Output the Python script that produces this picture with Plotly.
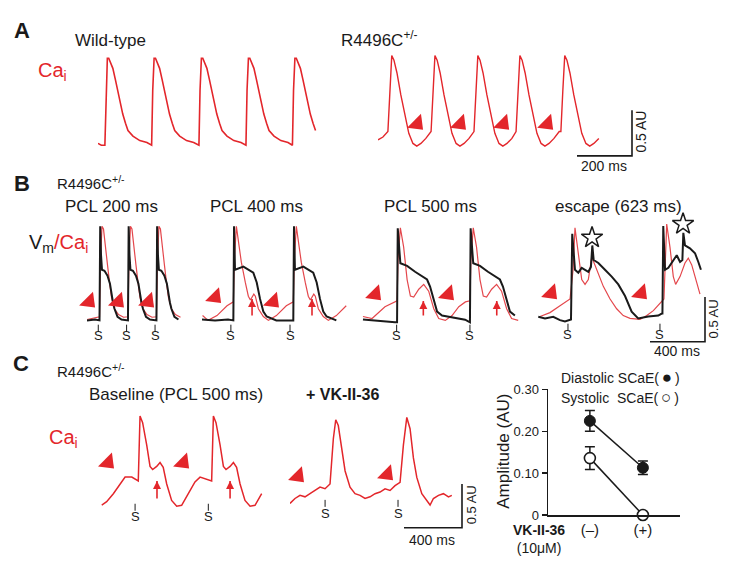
import plotly.graph_objects as go

W, H = 730, 561
FONT = "Arial, 'Liberation Sans', sans-serif"
RED = "#e3262b"
RED_B = "#e4474c"
INK = "#1a1a1a"

# ======================= DATA =======================
# --- Panel C (right): SCaE amplitude (AU)
amp_groups = ["(–)", "(+)"]
diastolic_mean = [0.225, 0.113]
diastolic_err = [0.025, 0.016]
systolic_mean = [0.136, 0.0]
systolic_err = [0.027, 0.0]
amp_tickvals = [0, 0.10, 0.20, 0.30]
amp_ticktext = ["0", "0.10", "0.20", "0.30"]

# --- Panel A, wild-type Ca_i: one beat (ms after upstroke, AU), beat onsets (ms)
wt_beat_t = [0, 4, 9, 14, 20, 29, 38, 47, 56, 65, 75, 84, 102, 127, 153, 170]
wt_beat_y = [0.0, 0.6, 0.95, 0.95, 0.91, 0.84, 0.72, 0.59, 0.46, 0.34, 0.24, 0.16, 0.10, 0.05, 0.03, 0.0]
wt_pre_t = [0, 12]
wt_pre_y = [0.02, 0.0]
wt_onsets = [25, 195, 367, 538, 707]
wt_end = 796

# --- Panel A, R4496C+/- Ca_i
r_beat_t = [0, 7, 14, 22, 33, 47, 62, 76, 91, 105, 120, 138, 157]
r_beat_y = [0.16, 0.6, 0.99, 0.94, 0.80, 0.56, 0.32, 0.14, 0.03, 0.0, 0.03, 0.085, 0.16]
r_pre_t = [0, 18]
r_pre_y = [0.07, 0.10]
r_onsets = [36, 193, 349, 502, 665]
r_end = 818
r_arrow_t = [142, 298, 455, 615]
r_arrow_y = [0.245, 0.245, 0.245, 0.245]

# --- Panel B, PCL 200 ms (Vm black, Ca_i red)
b200_vm_t = [0, 3, 5, 11, 18, 36, 58, 76, 87, 98, 109, 131, 160, 207]
b200_vm_y = [0, 0.6, 1.05, 0.73, 0.565, 0.554, 0.50, 0.41, 0.29, 0.20, 0.13, 0.04, 0.01, 0]
b200_ca_t = [0, 7, 18, 29, 44, 58, 73, 87, 109, 138, 175, 207]
b200_ca_y = [0.04, 0.67, 1.05, 1.02, 0.84, 0.62, 0.425, 0.26, 0.13, 0.065, 0.035, 0.04]
b200_pre_t = [0, 58]
b200_pre_vm = [0.0, 0.01]
b200_pre_ca = [0.01, 0.03]
b200_onsets = [91, 298, 505]
b200_end = 698
b200_s = [82, 288, 495]
b200_head_t = [15, 225, 444]
b200_head_y = [0.21, 0.21, 0.21]

# --- Panel B, PCL 400 ms
b400_vm_t = [0, 3, 5, 12, 73, 145, 170, 194, 218, 242, 313, 436]
b400_vm_y = [0, 0.6, 1.05, 0.565, 0.60, 0.533, 0.424, 0.24, 0.098, 0.043, 0, 0]
b400_ca_t = [0, 7, 22, 36, 58, 87, 109, 124, 138, 149, 160, 182, 218, 255, 313, 385, 436]
b400_ca_y = [0.207, 0.67, 1.05, 0.89, 0.65, 0.424, 0.27, 0.228, 0.27, 0.293, 0.27, 0.13, 0.043, 0, 0.054, 0.163, 0.207]
b400_pre_t_vm = [0, 95, 189]
b400_pre_vm = [0.01, 0.0, 0.01]
b400_pre_t_ca = [4, 44, 109, 182]
b400_pre_ca = [0.054, 0.0, 0.054, 0.163]
b400_onsets = [228, 664]
b400_end = 1055
b400_s = [210, 640]
b400_head_t = [95, 516]
b400_head_y = [0.26, 0.21]
b400_up_t = [364, 800]
b400_up_tip = [0.239, 0.239]
b400_up_tail = [0.054, 0.054]

# --- Panel B, PCL 500 ms
b500_vm_t = [0, 3, 5, 24, 73, 131, 182, 218, 240, 269, 291, 327, 400, 495, 531]
b500_vm_y = [0, 0.6, 1.05, 0.66, 0.63, 0.565, 0.51, 0.478, 0.40, 0.228, 0.12, 0.076, 0.054, 0.03, 0]
b500_ca_t = [0, 7, 24, 48, 73, 97, 121, 158, 194, 230, 267, 303, 351, 400, 449, 497, 531]
b500_ca_y = [0.24, 0.70, 1.055, 0.84, 0.478, 0.293, 0.283, 0.37, 0.424, 0.348, 0.152, 0.043, 0.022, 0.076, 0.174, 0.228, 0.24]
b500_pre_t_vm = [7, 131, 240]
b500_pre_vm = [0.033, 0.011, 0.0]
b500_pre_t_ca = [7, 73, 167, 240]
b500_pre_ca = [0.065, 0.043, 0.174, 0.23]
b500_onsets = [255, 785]
b500_end = 1164
b500_s = [252, 785]
b500_head_t = [95, 625]
b500_head_y = [0.315, 0.315]
b500_up_t = [446, 980]
b500_up_tip = [0.239, 0.239]
b500_up_tail = [0.076, 0.076]

# --- Panel B, escape (623 ms): full traces (ms, AU)
esc_vm_t = [2, 51, 111, 160, 196, 220, 240, 249, 258, 269, 293, 318, 342, 366, 385, 395, 405, 439, 487,
            536, 584, 633, 681, 729, 802, 875, 900, 905, 911, 924, 948, 984, 1009, 1033, 1050, 1057,
            1069, 1105, 1142, 1166, 1185]
esc_vm_y = [0.04, 0.022, 0.04, 0.003, -0.011, 0.003, 0.011, 0.967, 0.78, 0.565, 0.533, 0.587, 0.565, 0.543,
            0.598, 0.837, 0.674, 0.641, 0.565, 0.489, 0.402, 0.272, 0.098, 0.022, 0.043, 0.054, 0.076,
            0.076, 1.054, 0.565, 0.587, 0.674, 0.728, 0.652, 0.674, 0.978, 0.837, 0.804, 0.75, 0.652, 0.565]
esc_ca_t = [15, 87, 160, 233, 255, 269, 293, 318, 342, 366, 391, 427, 475, 524, 572, 620, 669, 742, 791,
            839, 900, 916, 936, 960, 984, 1001, 1033, 1069, 1093, 1118, 1154, 1178]
esc_ca_y = [0.043, 0.087, 0.163, 0.239, 0.565, 1.033, 0.75, 0.457, 0.402, 0.457, 0.707, 0.565, 0.38, 0.239,
            0.13, 0.054, 0.022, 0.011, 0.054, 0.109, 0.207, 0.239, 1.076, 0.815, 0.489, 0.402, 0.489,
            0.641, 0.696, 0.62, 0.424, 0.293]
esc_s = [218, 887]
esc_head_t = [95, 749]
esc_head_y = [0.304, 0.304]
esc_star_t = [393, 1055]
esc_star_y = [0.924, 1.076]

# --- Panel C, baseline (PCL 500 ms) Ca_i
cb_beat_t = [0, 12, 30, 58, 81, 99, 127, 150, 172, 196, 230, 265, 299, 345, 391, 426, 472, 506]
cb_beat_y = [0.289, 1.03, 0.955, 0.70, 0.455, 0.42, 0.455, 0.50, 0.444, 0.255, 0.067, 0.0, 0.011,
             0.144, 0.278, 0.333, 0.311, 0.289]
cb_pre_t = [12, 46, 92, 138, 173, 219, 253]
cb_pre_y = [0.014, 0.052, 0.144, 0.255, 0.333, 0.333, 0.292]
cb_onsets = [264, 770]
cb_end = 1127
cb_s = [242, 747]
cb_head_t = [55, 573]
cb_head_y = [0.5, 0.5]
cb_up_t = [393, 897]
cb_up_tip = [0.289, 0.289]
cb_up_tail = [0.089, 0.089]

# --- Panel C, + VK-II-36 Ca_i: full trace (ms, AU)
vk_t = [0, 34.5, 69, 103.5, 138, 172.5, 207, 241.5, 276, 299, 315.5, 333, 357.5, 380, 414, 448.5, 483,
        517.5, 552, 586.5, 621, 655.5, 690, 724.5, 759, 782, 805.5, 828, 851, 874.5, 909, 943.5, 966,
        989, 1024, 1058, 1093, 1116]
vk_y = [0.033, 0.089, 0.125, 0.108, 0.144, 0.181, 0.219, 0.2, 0.255, 0.774, 0.988, 0.922, 0.663, 0.403,
        0.219, 0.144, 0.125, 0.089, 0.108, 0.144, 0.163, 0.2, 0.181, 0.236, 0.274, 0.699, 1.014, 0.885,
        0.552, 0.33, 0.144, 0.07, 0.014, 0.089, 0.125, 0.144, 0.108, 0.125]
vk_s = [242, 745]
vk_head_t = [55, 669]
vk_head_y = [0.344, 0.366]

# scale bars (ms, AU)
scale_a = (200, 0.5)
scale_bc = (400, 0.5)


def build(pre_t, pre_y, beat_t, beat_y, onsets, t_end):
    ts, ys = list(pre_t), list(pre_y)
    for i, on in enumerate(onsets):
        last = i == len(onsets) - 1
        nxt = t_end if last else onsets[i + 1]
        for bt, by in zip(beat_t, beat_y):
            tt = on + bt
            if tt < nxt or (last and tt <= t_end):
                ts.append(tt)
                ys.append(by)
    return ts, ys


# ======================= LAYOUT OF PANELS =======================
# name: (left px, baseline px, ms per px, AU per px, x range, y range)
PANELS = [
    ("awt", 98, 142, 200 / 55, 0.5 / 47, (0, 800), (-0.1, 1.05)),
    ("ar", 378, 143, 200 / 55, 0.5 / 47, (0, 960), (-0.15, 1.05)),
    ("b200", 87, 322, 400 / 55, 0.5 / 46, (0, 700), (-0.25, 1.15)),
    ("b400", 202, 322, 400 / 55, 0.5 / 46, (0, 1060), (-0.25, 1.15)),
    ("b500", 362, 324, 400 / 55, 0.5 / 46, (0, 1170), (-0.25, 1.15)),
    ("besc", 538, 322, 400 / 55, 0.5 / 46, (0, 1230), (-0.3, 1.15)),
    ("cb", 100, 513, 400 / 58, 0.5 / 45, (0, 1130), (-0.2, 1.1)),
    ("cvk", 290, 513, 400 / 58, 0.5 / 45, (0, 1200), (-0.3, 1.1)),
]
AX = {}
GEOM = {}
axes_layout = {}
for i, (name, left, base, mspp, aupp, tr, yr) in enumerate(PANELS, start=2):
    x0 = left + tr[0] / mspp
    x1 = left + tr[1] / mspp
    ytop = base - yr[1] / aupp
    ybot = base - yr[0] / aupp
    axes_layout[f"xaxis{i}"] = dict(domain=[max(0, x0 / W), min(1, x1 / W)], range=list(tr),
                                    visible=False, anchor=f"y{i}", fixedrange=True)
    axes_layout[f"yaxis{i}"] = dict(domain=[max(0, 1 - ybot / H), min(1, 1 - ytop / H)], range=list(yr),
                                    visible=False, anchor=f"x{i}", fixedrange=True)
    AX[name] = (f"x{i}", f"y{i}")
    GEOM[name] = (left, base, mspp, aupp)


def to_data(name, px, py):
    left, base, mspp, aupp = GEOM[name]
    return (px - left) * mspp, (base - py) * aupp


fig = go.Figure()


def line(name, t, y, color, width):
    xa, ya = AX[name]
    fig.add_trace(go.Scatter(x=t, y=y, mode="lines", xaxis=xa, yaxis=ya, hoverinfo="skip",
                             line=dict(color=color, width=width), showlegend=False))


def heads(name, t, y):
    xa, ya = AX[name]
    fig.add_trace(go.Scatter(x=t, y=y, mode="markers", xaxis=xa, yaxis=ya, cliponaxis=False,
                             marker=dict(symbol="triangle-up", angle=135, size=17, color=RED),
                             hoverinfo="skip", showlegend=False))


def up_arrows(name, t, tip, tail):
    xa, ya = AX[name]
    xs, ys = [], []
    for tt, a, b in zip(t, tip, tail):
        xs += [tt, tt, None]
        ys += [b, a, None]
    fig.add_trace(go.Scatter(x=xs, y=ys, mode="lines", xaxis=xa, yaxis=ya, cliponaxis=False,
                             line=dict(color=RED, width=1.6), hoverinfo="skip", showlegend=False))
    fig.add_trace(go.Scatter(x=t, y=tip, mode="markers", xaxis=xa, yaxis=ya, cliponaxis=False,
                             marker=dict(symbol="arrow-up", size=8, color=RED),
                             hoverinfo="skip", showlegend=False))


def s_marks(name, t, tick_px, s_px):
    xa, ya = AX[name]
    left, base, mspp, aupp = GEOM[name]
    ty = (base - tick_px) * aupp
    sy = (base - s_px) * aupp
    fig.add_trace(go.Scatter(x=t, y=[ty] * len(t), mode="markers", xaxis=xa, yaxis=ya, cliponaxis=False,
                             marker=dict(symbol="line-ns", size=5, line=dict(width=1, color=INK)),
                             hoverinfo="skip", showlegend=False))
    for tt in t:
        fig.add_annotation(x=tt, y=sy, xref=xa, yref=ya, text="S", showarrow=False,
                           font=dict(family=FONT, size=13, color=INK), xanchor="center", yanchor="middle")


def scale_bar(name, scale, corner_px):
    t1, y0 = to_data(name, *corner_px)
    t0 = t1 - scale[0]
    line(name, [t0, t1, t1], [y0, y0, y0 + scale[1]], INK, 1.6)


# ---- Panel A
t, y = build(wt_pre_t, wt_pre_y, wt_beat_t, wt_beat_y, wt_onsets, wt_end)
line("awt", t, y, RED, 1.6)
t, y = build(r_pre_t, r_pre_y, r_beat_t, r_beat_y, r_onsets, r_end)
line("ar", t, y, RED, 1.4)
heads("ar", r_arrow_t, r_arrow_y)
scale_bar("ar", scale_a, (632, 153))

# ---- Panel B
t, y = build(b200_pre_t, b200_pre_ca, b200_ca_t, b200_ca_y, b200_onsets, b200_end)
line("b200", t, y, RED_B, 1.2)
t, y = build(b200_pre_t, b200_pre_vm, b200_vm_t, b200_vm_y, b200_onsets, b200_end)
line("b200", t, y, INK, 2)
heads("b200", b200_head_t, b200_head_y)
s_marks("b200", b200_s, 330, 338)

t, y = build(b400_pre_t_ca, b400_pre_ca, b400_ca_t, b400_ca_y, b400_onsets, b400_end)
line("b400", t, y, RED_B, 1.2)
t, y = build(b400_pre_t_vm, b400_pre_vm, b400_vm_t, b400_vm_y, b400_onsets, b400_end)
line("b400", t, y, INK, 2)
heads("b400", b400_head_t, b400_head_y)
up_arrows("b400", b400_up_t, b400_up_tip, b400_up_tail)
s_marks("b400", b400_s, 330, 338)

t, y = build(b500_pre_t_ca, b500_pre_ca, b500_ca_t, b500_ca_y, b500_onsets, b500_end)
line("b500", t, y, RED_B, 1.2)
t, y = build(b500_pre_t_vm, b500_pre_vm, b500_vm_t, b500_vm_y, b500_onsets, b500_end)
line("b500", t, y, INK, 2)
heads("b500", b500_head_t, b500_head_y)
up_arrows("b500", b500_up_t, b500_up_tip, b500_up_tail)
s_marks("b500", b500_s, 330, 338)

line("besc", esc_ca_t, esc_ca_y, RED_B, 1.2)
line("besc", esc_vm_t, esc_vm_y, INK, 2)
heads("besc", esc_head_t, esc_head_y)
s_marks("besc", esc_s, 329, 337)
xa, ya = AX["besc"]
fig.add_trace(go.Scatter(x=esc_star_t, y=esc_star_y, mode="markers", xaxis=xa, yaxis=ya, cliponaxis=False,
                         marker=dict(symbol="star-open", size=16, color=INK, line=dict(width=1.5, color=INK)),
                         hoverinfo="skip", showlegend=False))
scale_bar("besc", scale_bc, (705, 344))

# ---- Panel C traces
t, y = build(cb_pre_t, cb_pre_y, cb_beat_t, cb_beat_y, cb_onsets, cb_end)
line("cb", t, y, RED, 1.5)
heads("cb", cb_head_t, cb_head_y)
up_arrows("cb", cb_up_t, cb_up_tip, cb_up_tail)
s_marks("cb", cb_s, 514, 523)

line("cvk", vk_t, vk_y, RED, 1.5)
heads("cvk", vk_head_t, vk_head_y)
s_marks("cvk", vk_s, 510, 520)
scale_bar("cvk", scale_bc, (462, 535))

# ---- Panel C amplitude chart (x / y)
xg = list(range(len(amp_groups)))
fig.add_trace(go.Scatter(x=xg, y=systolic_mean, mode="lines+markers", cliponaxis=False,
                         error_y=dict(type="data", array=systolic_err, thickness=1.5, width=5, color=INK),
                         line=dict(color=INK, width=1.5),
                         marker=dict(size=11, color="white", line=dict(color=INK, width=1.6)),
                         showlegend=False))
fig.add_trace(go.Scatter(x=xg, y=diastolic_mean, mode="lines+markers", cliponaxis=False,
                         error_y=dict(type="data", array=diastolic_err, thickness=1.5, width=5, color=INK),
                         line=dict(color=INK, width=1.5),
                         marker=dict(size=11, color=INK, line=dict(color=INK, width=1)),
                         showlegend=False))

axes_layout["xaxis"] = dict(domain=[548 / W, 680 / W], range=[-0.79, 1.70], tickvals=xg, ticktext=amp_groups,
                            showline=True, linewidth=1.5, linecolor=INK, ticks="", showgrid=False,
                            zeroline=False, tickfont=dict(family=FONT, size=15, color=INK), anchor="y",
                            fixedrange=True)
axes_layout["yaxis"] = dict(domain=[1 - 522 / H, 1 - 393 / H], range=[0, 0.30], tickvals=amp_tickvals,
                            ticktext=amp_ticktext, showline=True, linewidth=1.5, linecolor=INK, ticks="outside",
                            ticklen=5, tickwidth=1.5, tickcolor=INK, showgrid=False, zeroline=False,
                            tickfont=dict(family=FONT, size=13, color=INK), anchor="x", fixedrange=True)


# ======================= TEXT =======================
def label(text, x, y, size=17, color=INK, xanchor="center", angle=0):
    fig.add_annotation(text=text, x=x / W, y=1 - y / H, xref="paper", yref="paper", showarrow=False,
                       font=dict(family=FONT, size=size, color=color), xanchor=xanchor, yanchor="middle",
                       textangle=angle)


label("<b>A</b>", 22, 24, size=22)
label("Wild-type", 73, 34, xanchor="left")
label("R4496C<sup>+/-</sup>", 339, 33, xanchor="left")
label("Ca<sub>i</sub>", 36, 66, size=20, color=RED, xanchor="left")
label("200 ms", 604, 163, size=14)
label("0.5 AU", 641, 128, size=14, angle=-90)

label("<b>B</b>", 22, 181, size=22)
label("R4496C<sup>+/-</sup>", 55, 180, size=15, xanchor="left")
label("PCL 200 ms", 111, 205)
label("PCL 400 ms", 256, 205)
label("PCL 500 ms", 430, 205)
label("escape (623 ms)", 618, 205)
label("V<sub>m</sub><span style='color:%s'>/Ca<sub>i</sub></span>" % RED, 27, 243, size=20, xanchor="left")
label("400 ms", 677, 353, size=14)
label("0.5 AU", 713, 321, size=13, angle=-90)

label("<b>C</b>", 21, 366, size=22)
label("R4496C<sup>+/-</sup>", 55, 373, size=15, xanchor="left")
label("Baseline (PCL 500 ms)", 176, 398)
label("<b>+ VK-II-36</b>", 304, 398, size=16, xanchor="left")
label("Ca<sub>i</sub>", 47, 443, size=20, color=RED, xanchor="left")
label("400 ms", 432, 548, size=14)
label("0.5 AU", 471, 511, size=13, angle=-90)

label("Diastolic SCaE(\u2009<span style='font-size:17px'>●</span>\u2009)", 559, 381, size=14, xanchor="left")
label("Systolic\u00a0\u00a0SCaE(\u2009<span style='font-size:17px'>○</span>\u2009)", 559, 401, size=14, xanchor="left")
label("Amplitude (AU)", 504, 457, size=17, angle=-90)
label("<b>VK-II-36</b><br>(10μM)", 539, 547, size=14)

fig.update_layout(width=W, height=H, autosize=False, margin=dict(l=0, r=0, t=0, b=0),
                  paper_bgcolor="white", plot_bgcolor="rgba(0,0,0,0)", showlegend=False,
                  font=dict(family=FONT, color=INK), **axes_layout)

fig.write_html("out.html", config={"displayModeBar": False, "staticPlot": True},
               post_script="document.body.style.margin='0px';")
